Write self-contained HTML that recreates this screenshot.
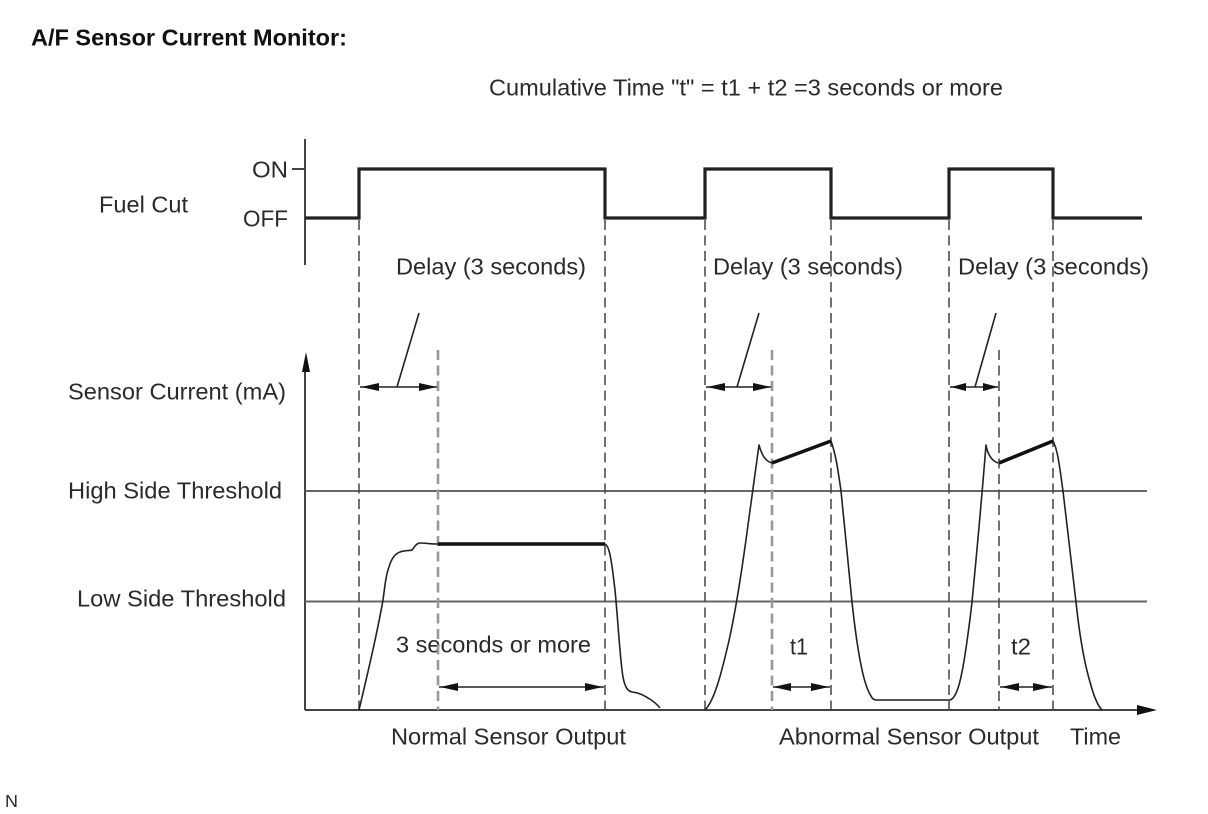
<!DOCTYPE html>
<html><head><meta charset="utf-8"><style>
html,body{margin:0;padding:0;background:#fff}
svg{display:block;filter:blur(0.35px)}
text{font-family:"Liberation Sans",sans-serif;font-size:23.5px;fill:#2a2a2a}
</style></head><body>
<svg width="1208" height="814" viewBox="0 0 1208 814" xmlns="http://www.w3.org/2000/svg">
<text x="31" y="45.5" textLength="316" lengthAdjust="spacingAndGlyphs" style="font-weight:bold;font-size:23.5px;fill:#111">A/F Sensor Current Monitor:</text>
<text x="489" y="95.5" textLength="514" lengthAdjust="spacingAndGlyphs">Cumulative Time "t" = t1 + t2 =3 seconds or more</text>
<text x="99" y="212.5" textLength="89" lengthAdjust="spacingAndGlyphs">Fuel Cut</text>
<text x="252" y="177.5" textLength="36" lengthAdjust="spacingAndGlyphs">ON</text>
<text x="243" y="226.5" textLength="45" lengthAdjust="spacingAndGlyphs">OFF</text>
<text x="68" y="399.5" textLength="218" lengthAdjust="spacingAndGlyphs">Sensor Current (mA)</text>
<text x="68" y="498.5" textLength="214" lengthAdjust="spacingAndGlyphs">High Side Threshold</text>
<text x="77" y="606.5" textLength="209" lengthAdjust="spacingAndGlyphs">Low Side Threshold</text>
<text x="396" y="274.5" textLength="190" lengthAdjust="spacingAndGlyphs">Delay (3 seconds)</text>
<text x="713" y="274.5" textLength="190" lengthAdjust="spacingAndGlyphs">Delay (3 seconds)</text>
<text x="958" y="274.5" textLength="191" lengthAdjust="spacingAndGlyphs">Delay (3 seconds)</text>
<text x="396" y="652.5" textLength="195" lengthAdjust="spacingAndGlyphs">3 seconds or more</text>
<text x="790" y="654.5" textLength="18" lengthAdjust="spacingAndGlyphs">t1</text>
<text x="1011" y="654.5" textLength="20" lengthAdjust="spacingAndGlyphs">t2</text>
<text x="391" y="744.5" textLength="235" lengthAdjust="spacingAndGlyphs">Normal Sensor Output</text>
<text x="779" y="744.5" textLength="260" lengthAdjust="spacingAndGlyphs">Abnormal Sensor Output</text>
<text x="1070" y="744.5" textLength="51" lengthAdjust="spacingAndGlyphs">Time</text>
<text x="5" y="807" textLength="13" lengthAdjust="spacingAndGlyphs" style="font-size:17.5px">N</text>

<g fill="none" stroke="#444" stroke-width="2">
<path d="M305 139V265M292 169H305M305 710V368"/>
<path d="M305 710H1142"/>
</g>
<path d="M306 352l-4 20h8zM1157 710l-20-5v10z" fill="#111"/>
<path d="M305 218H359V169H605V218H705V169H831V218H949V169H1053V218H1142" fill="none" stroke="#222" stroke-width="3.2"/>
<path d="M305 491H1147M305 601.5H1147" stroke="#666" stroke-width="2"/>
<g stroke="#444" stroke-width="1.5" stroke-dasharray="10 5.5" fill="none">
<path d="M359 220V710M605 220V710M705 220V710M831 220V710M949 220V710M1053 220V710M999 350V710"/>
</g>
<g stroke="#999" stroke-width="2.6" stroke-dasharray="10 5.5" fill="none">
<path d="M438 350V710M772 350V710"/>
</g>
<g fill="none" stroke="#222" stroke-width="1.6" stroke-linejoin="round">
<path d="M359 710C366 680 376 640 383 600C385 585 386 575 389 567C391 560 394 554 400 552C405 550 410 551 412 550C414 548 416 543 420 543C425 543 430 544 438 544"/>
<path d="M605 544C610 546 612 565 615 590C618 620 620 660 623 677C625 688 628 691 632 692C640 693 643 695 648 698C653 701 657 704 660 708"/>
<path d="M705 710C715 700 722 670 728 645C735 615 742 570 748 525C753 490 756 465 759 445C761 452 764 461 772 463"/>
<path d="M831 441C836 455 838 470 841 491C845 530 849 575 852 602C855 630 858 650 861 665C864 680 867 690 871 696C873 700 875 700 878 700H950C957 698 961 680 965 655C968 635 970 620 972 602C976 560 980 520 986 445C987 452 991 461 998 463"/>
<path d="M1053 441C1058 450 1060 470 1063 491L1076 602C1080 640 1085 665 1090 682C1094 697 1098 706 1102 710"/>
<path d="M360 387H437M706 387H771M950 387H998M439 687H604M773 687H830M1000 687H1052"/>
<path d="M397 387L419 313M737 387L759 313M975 387L996 313"/>
</g>
<path d="M876 700H950" stroke="#555" stroke-width="2" fill="none"/>
<g stroke="#111" stroke-width="3.5" fill="none"><path d="M438 544H605M772 463L831 441M999 463L1053 441"/></g>
<g fill="#111">
<path d="M361 387l18-4v8zM437 387l-18-4v8zM707 387l18-4v8zM771 387l-18-4v8zM951 387l15-4v8zM998 387l-15-4v8z"/>
<path d="M440 687l18-4v8zM603 687l-18-4v8zM773 687l18-4v8zM829 687l-18-4v8zM1001 687l18-4v8zM1051 687l-18-4v8z"/>
</g>
</svg>
</body></html>
